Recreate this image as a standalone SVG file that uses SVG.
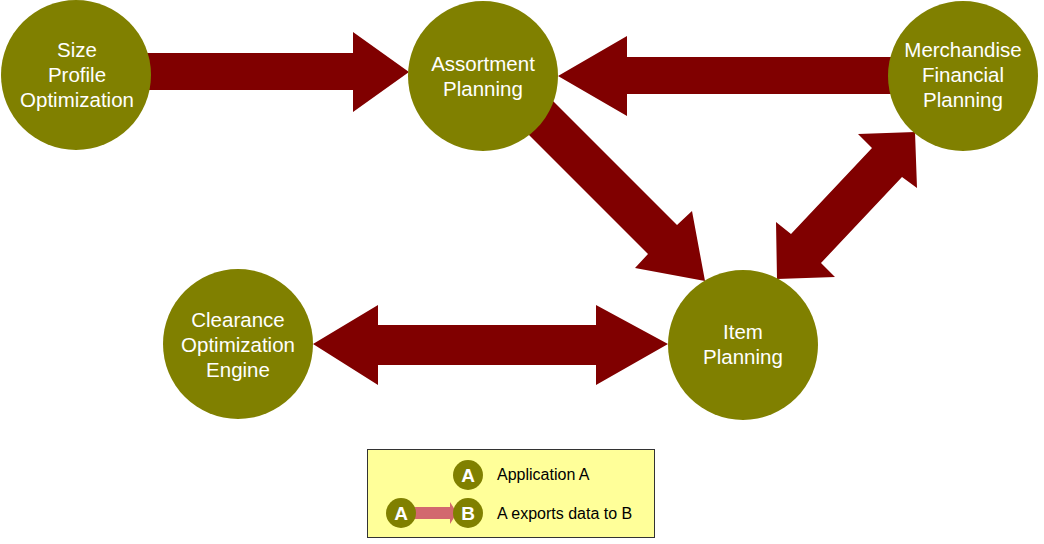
<svg xmlns="http://www.w3.org/2000/svg" width="1044" height="544" viewBox="0 0 1044 544">
<style>
.node{fill:#808000}
.lbl{fill:#ffffff;font-family:"Liberation Sans",Arial,sans-serif;font-size:20.5px;text-anchor:middle}
.conn{fill:#800000}
.leg{fill:#000000;font-family:"Liberation Sans",Arial,sans-serif;font-size:16px}
.lc{fill:#ffffff;font-family:"Liberation Sans",Arial,sans-serif;font-size:19px;font-weight:bold;text-anchor:middle}
</style>
<rect width="1044" height="544" fill="#ffffff"/>
<g id="connectors">
<polygon class="conn" points="140,53 353,53 353,32 409,72 353,112 353,90 140,90"/>
<polygon class="conn" points="900,57 627,57 627,36 558,76 627,116 627,94 900,94"/>
<polygon class="conn" points="540,88 677,225 692,211 705,281 635,268 648,254 515,121"/>
<polygon class="conn" points="777,279 835,277 821,263 902,177 917,188 915,132 858,134 872,148 791,234 776,222"/>
<polygon class="conn" points="313,344 378,305 378,325 596,325 596,305 668,344 596,385 596,365 378,365 378,385"/>
</g>
<g id="size-profile-optimization">
<circle class="node" cx="76" cy="75" r="75"/>
<text class="lbl" x="77" y="57">Size</text>
<text class="lbl" x="77" y="82">Profile</text>
<text class="lbl" x="77" y="107">Optimization</text>
</g>
<g id="assortment-planning">
<circle class="node" cx="483" cy="76" r="75"/>
<text class="lbl" x="483" y="71">Assortment</text>
<text class="lbl" x="483" y="96">Planning</text>
</g>
<g id="merchandise-financial-planning">
<circle class="node" cx="963" cy="76" r="75"/>
<text class="lbl" x="963" y="57">Merchandise</text>
<text class="lbl" x="963" y="82">Financial</text>
<text class="lbl" x="963" y="107">Planning</text>
</g>
<g id="clearance-optimization-engine">
<circle class="node" cx="238" cy="344" r="75"/>
<text class="lbl" x="238" y="327">Clearance</text>
<text class="lbl" x="238" y="352">Optimization</text>
<text class="lbl" x="238" y="377">Engine</text>
</g>
<g id="item-planning">
<circle class="node" cx="743" cy="345" r="75"/>
<text class="lbl" x="743" y="339">Item</text>
<text class="lbl" x="743" y="364">Planning</text>
</g>
<g id="legend">
<rect x="367.5" y="449.5" width="287" height="88" fill="#ffff99" stroke="#333333" stroke-width="1"/>
<circle class="node" cx="468" cy="475" r="15"/>
<text class="lc" x="468" y="482">A</text>
<text class="leg" x="497" y="480">Application A</text>
<polygon points="413,507 450,507 450,502 457,513 450,524 450,519 413,519" fill="#d2686e"/>
<circle class="node" cx="401" cy="513" r="15"/>
<text class="lc" x="401" y="520">A</text>
<circle class="node" cx="468" cy="513" r="15"/>
<text class="lc" x="468" y="520">B</text>
<text class="leg" x="497" y="519">A exports data to B</text>
</g>
</svg>
